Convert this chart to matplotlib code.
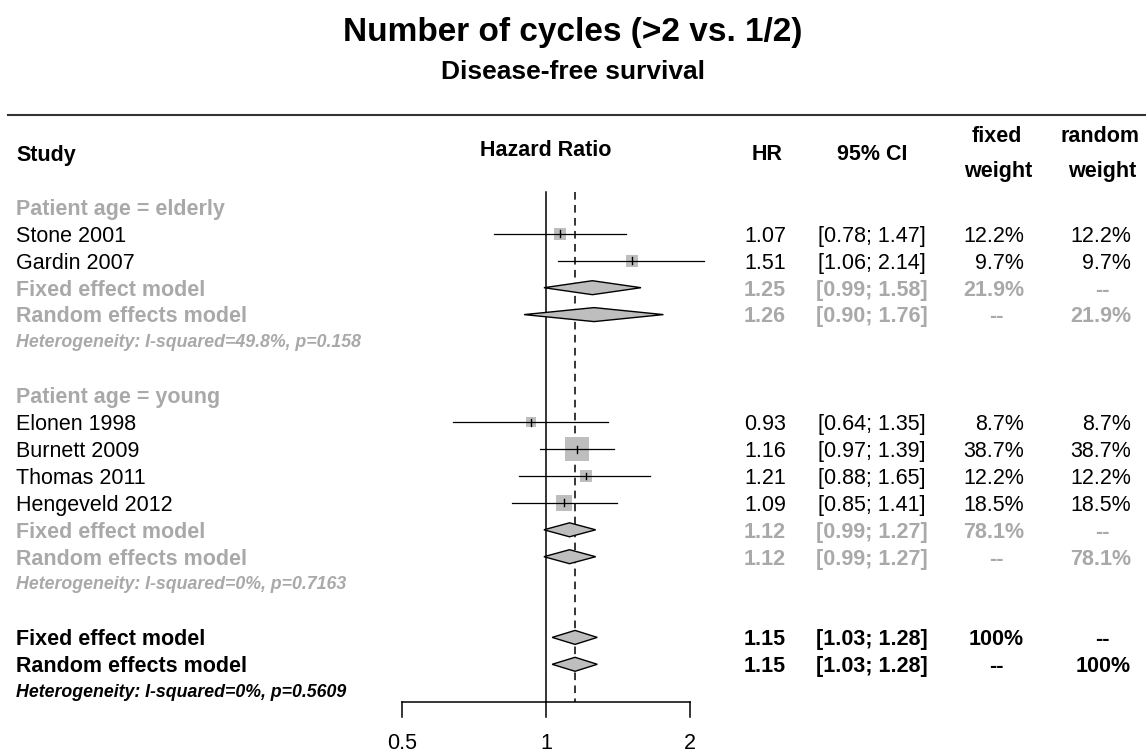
import numpy as np
import matplotlib
matplotlib.use("Agg")
import matplotlib.pyplot as plt
from matplotlib.patches import Polygon

plt.rcParams['font.family'] = ['Liberation Sans', 'DejaVu Sans']

# ---- data ----
elderly_names = ["Stone 2001", "Gardin 2007"]
elderly_hr = [1.07, 1.51]
elderly_lo = [0.78, 1.06]
elderly_hi = [1.47, 2.14]
elderly_w = [12.2, 9.7]
elderly_fixed = [1.25, 0.99, 1.58, 21.9]
elderly_random = [1.26, 0.90, 1.76, 21.9]
elderly_het = "Heterogeneity: I-squared=49.8%, p=0.158"

young_names = ["Elonen 1998", "Burnett 2009", "Thomas 2011", "Hengeveld 2012"]
young_hr = [0.93, 1.16, 1.21, 1.09]
young_lo = [0.64, 0.97, 0.88, 0.85]
young_hi = [1.35, 1.39, 1.65, 1.41]
young_w = [8.7, 38.7, 12.2, 18.5]
young_fixed = [1.12, 0.99, 1.27, 78.1]
young_random = [1.12, 0.99, 1.27, 78.1]
young_het = "Heterogeneity: I-squared=0%, p=0.7163"

overall_fixed = [1.15, 1.03, 1.28, 100]
overall_random = [1.15, 1.03, 1.28, 100]
overall_het = "Heterogeneity: I-squared=0%, p=0.5609"

xticks = [0.5, 1, 2]

# ---- layout ----
W, H = 1146, 754
ROW0 = 207.0    # pixel y of first row
PITCH = 26.9    # pixels per row
GREY_TXT = "#A9A9A9"
GREY_FILL = "#BEBEBE"
FS = 15.5


def prow(px):
    return (px - ROW0) / PITCH


def fx(px):
    return px / W


fig = plt.figure(figsize=(W / 100, H / 100), dpi=100)
ax = fig.add_axes([0, 0, 1, 1])
ax.set_xscale('log')
ax.set_xlim(2 ** (-546 / 144), 2 ** ((W - 546) / 144))
ax.set_ylim(prow(H), prow(0))
ax.axis('off')
tr = ax.get_yaxis_transform()

fig.text(0.5, 1 - 32 / H, "Number of cycles (>2 vs. 1/2)", ha='center', va='center',
         fontsize=24, fontweight='bold')
fig.text(0.5, 1 - 72 / H, "Disease-free survival", ha='center', va='center',
         fontsize=19, fontweight='bold')
ax.plot([fx(8), 1], [prow(115)] * 2, transform=tr, color='#333333', lw=1.5)

# headers
ax.text(fx(16), prow(155), "Study", transform=tr, fontsize=FS, fontweight='bold', va='center')
ax.text(1, prow(150), "Hazard Ratio", fontsize=FS, fontweight='bold', va='center', ha='center')
ax.text(fx(767), prow(155), "HR", transform=tr, fontsize=FS, fontweight='bold', va='center', ha='center')
ax.text(fx(872), prow(155), "95% CI", transform=tr, fontsize=FS, fontweight='bold', va='center', ha='center')
ax.text(fx(997), prow(137), "fixed", transform=tr, fontsize=FS, fontweight='bold', va='center', ha='center')
ax.text(fx(998), prow(171), "weight", transform=tr, fontsize=FS, fontweight='bold', va='center', ha='center')
ax.text(fx(1100), prow(137), "random", transform=tr, fontsize=FS, fontweight='bold', va='center', ha='center')
ax.text(fx(1102), prow(171), "weight", transform=tr, fontsize=FS, fontweight='bold', va='center', ha='center')

TXT_OFF = 0.29
HET_OFF = 0.2


def row_text(r, label, hr, lo, hi, wf, wr, color='black', weight='normal'):
    y = r + TXT_OFF
    kw = dict(transform=tr, fontsize=FS, color=color, fontweight=weight, va='baseline')
    ax.text(fx(16), y, label, **kw)
    ax.text(fx(786), y, f"{hr:.2f}", ha='right', **kw)
    ax.text(fx(872), y, f"[{lo:.2f}; {hi:.2f}]", ha='center', **kw)
    for val, xr, xc in [(wf, 1024, 996), (wr, 1131, 1102)]:
        if val is None:
            ax.text(fx(xc), y, "--", ha='center', **kw)
        else:
            s = f"{val:.0f}%" if val >= 100 else f"{val:.1f}%"
            ax.text(fx(xr), y, s, ha='right', **kw)


def diamond(r, hr, lo, hi):
    h = 0.26
    ax.add_patch(Polygon([(lo, r), (hr, r - h), (hi, r), (hr, r + h)], closed=True,
                         facecolor=GREY_FILL, edgecolor='black', lw=1.0, zorder=4))


def study(r, name, hr, lo, hi, w):
    side = 3.7 * np.sqrt(w) * 0.72
    ax.scatter([hr], [r], marker='s', s=side ** 2, color=GREY_FILL, lw=0, zorder=3)
    ax.plot([lo, hi], [r, r], color='black', lw=0.9, zorder=4)
    ax.plot([hr, hr], [r - 0.13, r + 0.13], color='black', lw=1.0, zorder=5)
    row_text(r, name, hr, lo, hi, w, w)


def subgroup(r0, title, names, hr, lo, hi, w, fixed, random, het):
    ax.text(fx(16), r0 + TXT_OFF, title, transform=tr, fontsize=FS, color=GREY_TXT,
            fontweight='bold', va='baseline')
    r = r0 + 1
    for i in range(len(names)):
        study(r, names[i], hr[i], lo[i], hi[i], w[i])
        r += 1
    diamond(r, *fixed[:3])
    row_text(r, "Fixed effect model", *fixed[:3], fixed[3], None, GREY_TXT, 'bold')
    r += 1
    diamond(r, *random[:3])
    row_text(r, "Random effects model", *random[:3], None, random[3], GREY_TXT, 'bold')
    r += 1
    ax.text(fx(16), r + HET_OFF, het, transform=tr, fontsize=12.8, color=GREY_TXT,
            fontweight='bold', style='italic', va='baseline')
    return r


r = subgroup(0, "Patient age = elderly", elderly_names, elderly_hr, elderly_lo, elderly_hi,
             elderly_w, elderly_fixed, elderly_random, elderly_het)
r = subgroup(r + 2, "Patient age = young", young_names, young_hr, young_lo, young_hi,
             young_w, young_fixed, young_random, young_het)
r += 2
diamond(r, *overall_fixed[:3])
row_text(r, "Fixed effect model", *overall_fixed[:3], overall_fixed[3], None, 'black', 'bold')
r += 1
diamond(r, *overall_random[:3])
row_text(r, "Random effects model", *overall_random[:3], None, overall_random[3], 'black', 'bold')
r += 1
ax.text(fx(16), r + HET_OFF, overall_het, transform=tr, fontsize=12.8, color='black',
        fontweight='bold', style='italic', va='baseline')

# reference lines and axis
y_top = prow(192)
y_axis = prow(702)
ax.plot([1, 1], [y_top, y_axis], color='black', lw=1.1, zorder=2)
ax.plot([overall_fixed[0]] * 2, [y_top, y_axis], color='black', lw=1.1,
        dashes=(5, 3.5), zorder=2)
ax.plot([xticks[0], xticks[-1]], [y_axis, y_axis], color='black', lw=1.1)
for t in xticks:
    ax.plot([t, t], [y_axis, prow(717)], color='black', lw=1.1)
    ax.text(t, prow(744), f"{t:g}", ha='center', va='center', fontsize=FS)

fig.savefig("out.png", dpi=100)
